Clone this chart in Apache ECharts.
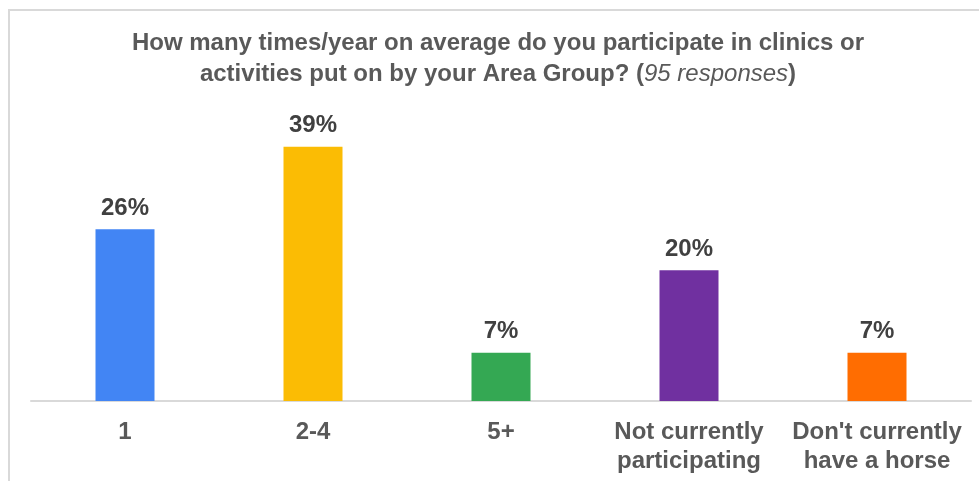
<!DOCTYPE html>
<html><head><meta charset="utf-8">
<script src="https://cdn.jsdelivr.net/npm/echarts@6/dist/echarts.min.js"></script>
<style>html,body{margin:0;padding:0;background:#fff}#c{width:979px;height:481px}</style>
</head><body><div id="c"></div>
<script>
const categories = ['1', '2-4', '5+', 'Not currently\nparticipating', "Don't currently\nhave a horse"];
const values = [26.3, 38.9, 7.4, 20.0, 7.4];
const colors = ['#4285F4', '#FBBC04', '#34A853', '#7030A0', '#FF6D01'];
const titleLine1 = 'How many times/year on average do you participate in clinics or';
const titleLine2a = 'activities put on by your Area Group? (';
const titleLine2b = '95 responses';
const titleLine2c = ')';

const chart = echarts.init(document.getElementById('c'));
const F = 'Liberation Sans, Arial, sans-serif';
chart.setOption({
  animation: false,
  graphic: [{
    type: 'rect', shape: {x: 9, y: 10, width: 1000, height: 500},
    style: {fill: 'none', stroke: '#d9d9d9', lineWidth: 2}, silent: true
  }, {
    type: 'text', x: 498, y: 28, silent: true,
    style: {
      text: '{b|' + titleLine1 + '}\n{b|' + titleLine2a + '}{i|' + titleLine2b + '}{b|' + titleLine2c + '}',
      align: 'center', verticalAlign: 'top',
      rich: {
        b: {fontFamily: F, fontWeight: 'bold', fontSize: 24, fill: '#595959', lineHeight: 31},
        i: {fontFamily: F, fontStyle: 'italic', fontWeight: 'normal', fontSize: 24, fill: '#595959', lineHeight: 31}
      }
    }
  }],
  grid: {left: 31, right: 8, top: 107, bottom: 80},
  xAxis: {
    type: 'category', data: categories,
    axisLine: {lineStyle: {color: '#d9d9d9', width: 2}},
    axisTick: {show: false},
    axisLabel: {fontFamily: F, fontWeight: 'bold', fontSize: 24, color: '#595959', lineHeight: 29, margin: 17, interval: 0}
  },
  yAxis: {type: 'value', min: 0, max: 45, show: false, splitLine: {show: false}},
  series: [{
    type: 'bar', barWidth: 59,
    data: values.map((v, i) => ({value: v, itemStyle: {color: colors[i]}})),
    label: {
      show: true, position: 'top', distance: 9,
      fontFamily: F, fontWeight: 'bold', fontSize: 24, color: '#404040',
      formatter: p => Math.round(p.value) + '%'
    }
  }]
});
</script></body></html>
